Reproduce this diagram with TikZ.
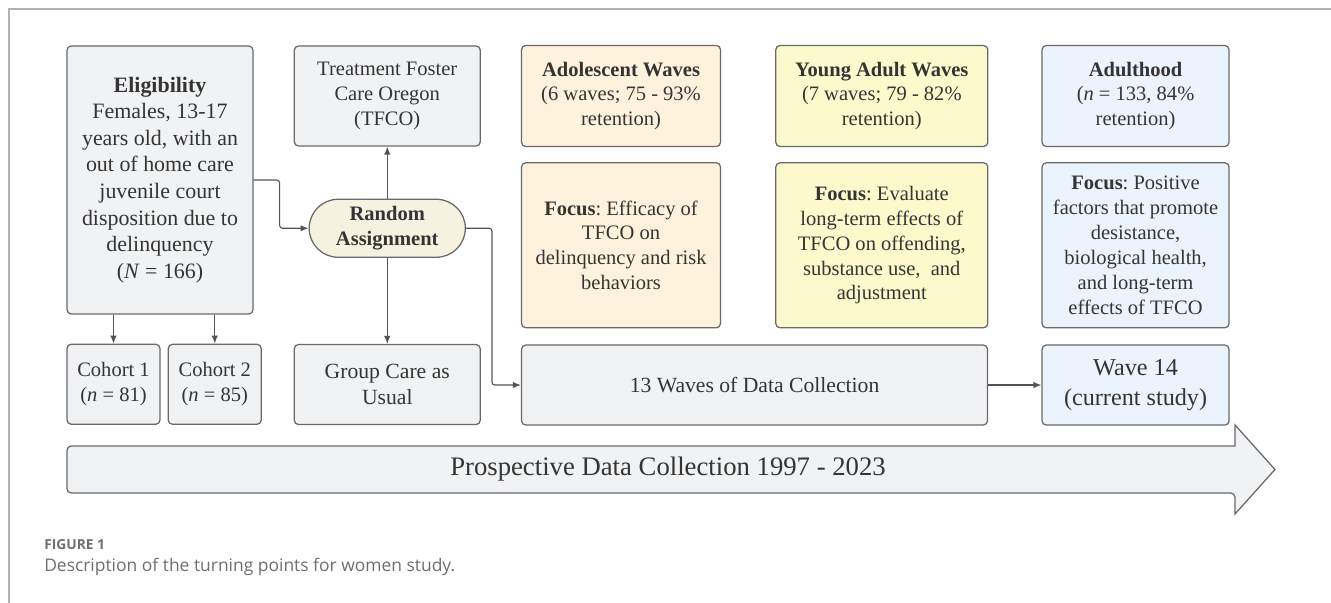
\documentclass[tikz,border=0pt]{standalone}
\usepackage{fontspec}
\setmainfont{Liberation Serif}
\newfontfamily\capfont{Open Sans}
\usepackage{xcolor}
\usetikzlibrary{arrows.meta,positioning,calc,shapes.misc}
\definecolor{ink}{RGB}{52,52,52}
\definecolor{edge}{RGB}{105,105,108}
\definecolor{boxgray}{RGB}{241,242,244}
\definecolor{boxcream}{RGB}{245,242,224}
\definecolor{boxpeach}{RGB}{254,242,221}
\definecolor{boxlemon}{RGB}{252,250,205}
\definecolor{boxblue}{RGB}{235,243,253}
\definecolor{framegray}{RGB}{178,178,178}
\definecolor{capgray}{RGB}{110,110,110}
\frenchspacing

\begin{document}
\begin{tikzpicture}[>={Latex[length=2mm,width=1.6mm]},node distance=1cm,
  font=\fontsize{14.6}{17.7}\selectfont,text=ink,
  b/.style={draw=edge,line width=0.9pt,rounded corners=3pt,align=center,
    fill=boxgray,inner sep=2pt,minimum width=4.65cm},
  pill/.style={draw=edge,line width=0.9pt,rounded rectangle,align=center,
    fill=boxcream,minimum width=3.975cm,minimum height=1.45cm,inner sep=1pt},
  link/.style={->,draw=edge!80!black,line width=0.8pt,rounded corners=2pt}]
\useasboundingbox (0,0) rectangle (33.275,-15.075);
\draw[framegray,line width=1.4pt] (0.225,-15.075) -- (0.225,-0.225) -- (33.275,-0.225);

% recruitment and assignment
\node[b,minimum height=6.7cm,font=\fontsize{15.6}{18.9}\selectfont] (elig) at (4.0,-4.5)
  {\textbf{Eligibility}\\Females, 13-17\\years old, with an\\out of home care\\juvenile court\\disposition due to\\delinquency\\(\textit{N} = 166)};
\node[b,minimum height=2.5cm,right=1.0cm of elig.north east,anchor=north west] (tfco)
  {Treatment Foster\\Care Oregon\\(TFCO)};
\node[pill,below=1.3cm of tfco] (rand) {\textbf{Random}\\\textbf{Assignment}};
\node[b,minimum height=2cm,below=2.15cm of rand,font=\fontsize{15.4}{18.4}\selectfont] (group)
  {Group Care as\\Usual};
\node[b,minimum width=2.325cm,minimum height=2cm,below=0.725cm of elig.south west,anchor=north west] (coh1)
  {Cohort 1\\(\textit{n} = 81)};
\node[b,minimum width=2.325cm,minimum height=2cm,right=0.175cm of coh1] (coh2)
  {Cohort 2\\(\textit{n} = 85)};

% follow-up waves
\node[b,fill=boxpeach,minimum width=4.975cm,minimum height=2.525cm,right=1.0cm of tfco] (adol)
  {\textbf{Adolescent Waves}\\(6 waves; 75 - 93\%\\retention)};
\node[b,fill=boxlemon,minimum width=5.3cm,minimum height=2.525cm,right=1.35cm of adol] (young)
  {\textbf{Young Adult Waves}\\(7 waves; 79 - 82\%\\retention)};
\node[b,fill=boxblue,minimum width=4.675cm,minimum height=2.525cm,right=1.325cm of young] (adult)
  {\textbf{Adulthood}\\(\textit{n} = 133, 84\%\\retention)};
\node[b,fill=boxpeach,minimum width=4.975cm,minimum height=4.125cm,below=0.375cm of adol] (adolfoc)
  {\textbf{Focus}: Efficacy of\\TFCO on\\delinquency and risk\\behaviors};
\node[b,fill=boxlemon,minimum width=5.3cm,minimum height=4.125cm,below=0.375cm of young] (youngfoc)
  {\textbf{Focus}: Evaluate\\long-term effects of\\TFCO on offending,\\substance use,\ \ and\\adjustment};
\node[b,fill=boxblue,minimum width=4.675cm,minimum height=4.125cm,below=0.375cm of adult] (adultfoc)
  {\textbf{Focus}: Positive\\factors that promote\\desistance,\\biological health,\\and long-term\\effects of TFCO};
\node[b,minimum width=11.65cm,minimum height=2cm,below=0.4cm of adolfoc.south west,anchor=north west,
  font=\fontsize{15.4}{18.4}\selectfont] (waves) {13 Waves of Data Collection};
\node[b,fill=boxblue,minimum width=4.675cm,minimum height=2cm,below=0.4cm of adultfoc,
  font=\fontsize{17.2}{21.3}\selectfont] (wave14) {Wave 14\\(current study)};

\draw[link] (elig.east) -- ++(0.65,0) |- (rand.west);
\draw[link] (rand.north) -- (tfco.south);
\draw[link] (rand.south) -- (group.north);
\draw[link] (rand.east) -- ++(0.65,0) |- (waves.west);
\draw[link] (coh1.north |- elig.south) -- (coh1.north);
\draw[link] (coh2.north |- elig.south) -- (coh2.north);
\draw[link] (waves.east) -- (wave14.west);

% time line arrow
\draw[edge,line width=0.9pt,fill=boxgray,rounded corners=3pt]
  (30.875,-11.15) -- (1.675,-11.15) -- (1.675,-12.325) -- (30.875,-12.325)
  [sharp corners] -- (30.875,-12.85) -- (31.875,-11.7375) -- (30.875,-10.625) -- cycle;
\node[font=\fontsize{19}{22}\selectfont] (span) at (16.7,-11.72) {Prospective Data Collection 1997 - 2023};

% caption
\node[anchor=west,inner sep=0pt,text=capgray,font=\capfont\bfseries\fontsize{9.8}{11}\selectfont] (figno) at (1.1,-13.625) {FIGURE 1};
\node[anchor=west,inner sep=0pt,text=capgray,font=\capfont\fontsize{12.4}{14}\selectfont] (figcap) at (1.1,-14.175)
  {Description of the turning points for women study.};
\end{tikzpicture}
\end{document}
